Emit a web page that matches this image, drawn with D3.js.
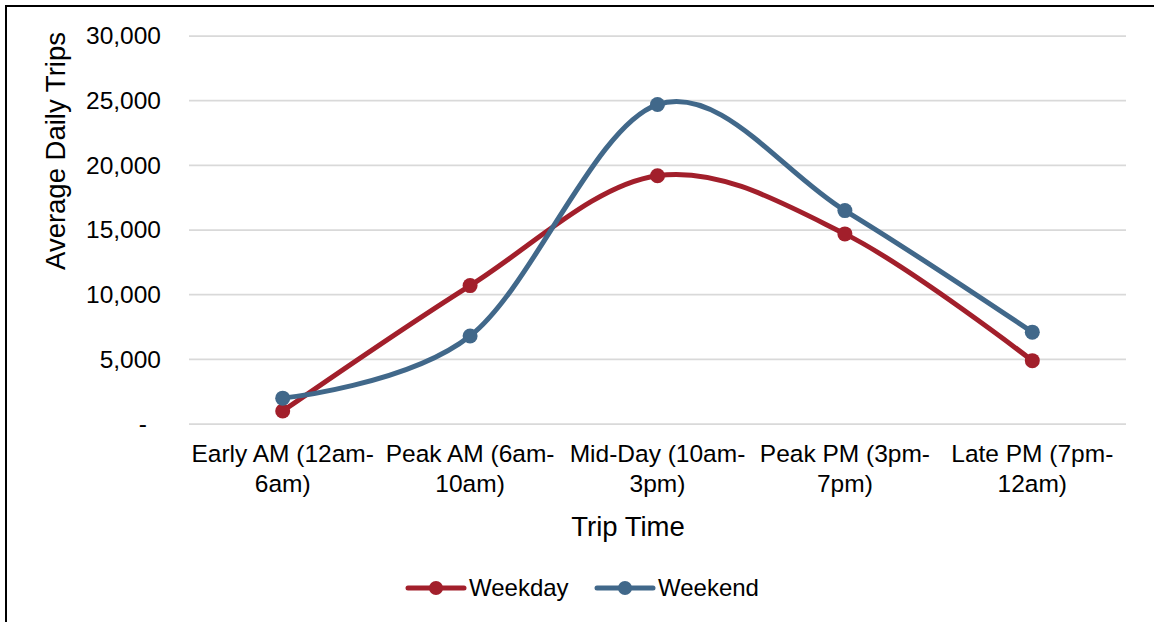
<!DOCTYPE html>
<html>
<head>
<meta charset="utf-8">
<script src="https://cdn.jsdelivr.net/npm/d3@7"></script>
<style>
  html, body { margin: 0; padding: 0; background: #fff; }
  svg { display: block; font-family: 'Liberation Sans', Arial, sans-serif; }
</style>
</head>
<body>
<div id="chart"></div>
<script>
// Average daily trips by time of day
var categories = [
  ['Early AM (12am-', '6am)'],
  ['Peak AM (6am-', '10am)'],
  ['Mid-Day (10am-', '3pm)'],
  ['Peak PM (3pm-', '7pm)'],
  ['Late PM (7pm-', '12am)']
];
var weekday = [1000, 10700, 19200, 14700, 4900];
var weekend = [2000, 6800, 24700, 16500, 7100];
var yTicks = [0, 5000, 10000, 15000, 20000, 25000, 30000];

var seriesList = [
  { name: 'Weekday', values: weekday, color: '#A21F2B' },
  { name: 'Weekend', values: weekend, color: '#41688A' }
];

var W = 1154, H = 622;
var plot = { left: 189, right: 1126, top: 36, bottom: 424 };

var svg = d3.select('#chart').append('svg')
  .attr('width', W)
  .attr('height', H);

svg.append('rect')
  .attr('width', W).attr('height', H)
  .attr('fill', '#fff');

// chart border (runs off the right / bottom edge)
svg.append('rect')
  .attr('x', 6).attr('y', 6)
  .attr('width', W + 20).attr('height', H + 20)
  .attr('fill', 'none')
  .attr('stroke', '#000')
  .attr('stroke-width', 2);

var x = d3.scalePoint()
  .domain(d3.range(categories.length))
  .range([plot.left, plot.right])
  .padding(0.5);

var y = d3.scaleLinear()
  .domain([0, 30000])
  .range([plot.bottom, plot.top]);

// gridlines
svg.append('g')
  .selectAll('line')
  .data(yTicks)
  .enter().append('line')
  .attr('x1', plot.left).attr('x2', plot.right)
  .attr('y1', function(d) { return y(d); })
  .attr('y2', function(d) { return y(d); })
  .attr('stroke', '#D9D9D9')
  .attr('stroke-width', 1.75);

// y axis labels
var yAxis = d3.axisLeft(y)
  .tickValues(yTicks)
  .tickSize(0)
  .tickPadding(0)
  .tickFormat(function(d) { return d === 0 ? '-' : d3.format(',')(d); });

var yg = svg.append('g')
  .attr('transform', 'translate(161,0)')
  .call(yAxis);
yg.select('.domain').remove();
yg.selectAll('text')
  .attr('font-size', '24.5px')
  .attr('fill', '#000')
  .attr('font-family', "'Liberation Sans', Arial, sans-serif")
  .attr('dx', function(d) { return d === 0 ? -14 : 0; });

// x axis labels (two lines each)
var xl = svg.append('g')
  .selectAll('text')
  .data(categories)
  .enter().append('text')
  .attr('x', function(d, i) { return x(i); })
  .attr('y', 462)
  .attr('text-anchor', 'middle')
  .attr('font-size', '24.5px')
  .attr('fill', '#000');
xl.append('tspan')
  .attr('x', function(d, i) { return x(i); })
  .text(function(d) { return d[0]; });
xl.append('tspan')
  .attr('x', function(d, i) { return x(i); })
  .attr('dy', 30)
  .text(function(d) { return d[1]; });

// axis titles
svg.append('text')
  .attr('x', 628)
  .attr('y', 536)
  .attr('text-anchor', 'middle')
  .attr('font-size', '27.5px')
  .attr('fill', '#000')
  .text('Trip Time');

svg.append('text')
  .attr('transform', 'translate(65,151) rotate(-90)')
  .attr('text-anchor', 'middle')
  .attr('font-size', '27.5px')
  .attr('fill', '#000')
  .text('Average Daily Trips');

// smoothed lines (Excel style)
var line = d3.line()
  .x(function(d, i) { return x(i); })
  .y(function(d) { return y(d); })
  .curve(d3.curveCardinal.tension(0));

var sg = svg.append('g')
  .selectAll('g')
  .data(seriesList)
  .enter().append('g');

sg.append('path')
  .attr('d', function(s) { return line(s.values); })
  .attr('fill', 'none')
  .attr('stroke', function(s) { return s.color; })
  .attr('stroke-width', 5)
  .attr('stroke-linecap', 'round');

sg.selectAll('circle')
  .data(function(s) { return s.values.map(function(v) { return { v: v, c: s.color }; }); })
  .enter().append('circle')
  .attr('cx', function(d, i) { return x(i); })
  .attr('cy', function(d) { return y(d.v); })
  .attr('r', 7.5)
  .attr('fill', function(d) { return d.c; });

// legend
var legendX = [408, 597];
var lg = svg.append('g')
  .selectAll('g')
  .data(seriesList)
  .enter().append('g')
  .attr('transform', function(d, i) { return 'translate(' + legendX[i] + ',588)'; });

lg.append('line')
  .attr('x1', 0).attr('x2', 56)
  .attr('stroke', function(d) { return d.color; })
  .attr('stroke-width', 5)
  .attr('stroke-linecap', 'round');
lg.append('circle')
  .attr('cx', 28).attr('r', 7)
  .attr('fill', function(d) { return d.color; });
lg.append('text')
  .attr('x', 61)
  .attr('dy', '0.35em')
  .attr('font-size', '24px')
  .attr('fill', '#000')
  .text(function(d) { return d.name; });
</script>
</body>
</html>
